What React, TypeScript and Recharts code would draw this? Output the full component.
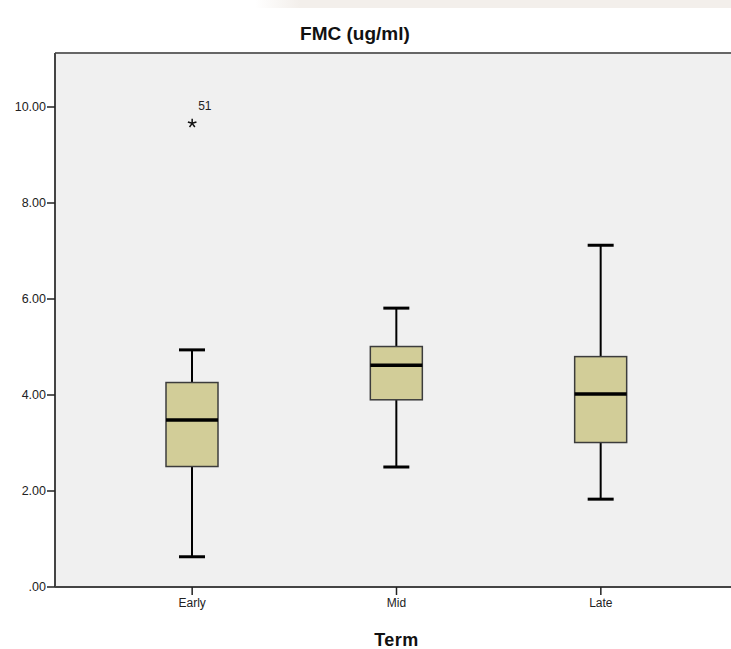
import React from "react";
import {
  ComposedChart,
  Bar,
  Scatter,
  XAxis,
  YAxis,
  CartesianGrid,
  ReferenceLine,
} from "recharts";

// values
const terms = ["Early", "Mid", "Late"];
const whiskerLow = [0.63, 2.5, 1.83];
const q1 = [2.51, 3.9, 3.01];
const median = [3.48, 4.62, 4.02];
const q3 = [4.26, 5.01, 4.8];
const whiskerHigh = [4.94, 5.81, 7.12];
const outliers = [9.66, null, null];
const outlierIds = ["51", "", ""];
const yTicks = [0, 2, 4, 6, 8, 10];
const Y_MAX = 11.125;

const data = terms.map((term, i) => ({
  term,
  box: [q1[i], q3[i]],
  low: whiskerLow[i],
  med: median[i],
  high: whiskerHigh[i],
  q1: q1[i],
  q3: q3[i],
  outlier: outliers[i],
  outlierId: outlierIds[i],
}));

const BoxShape = (props: any) => {
  const { x, y, width, height, payload } = props;
  if (x == null || !payload) return null;
  const pxPer = height / (payload.q3 - payload.q1);
  const yOf = (v: number) => y + (payload.q3 - v) * pxPer;
  const cx = x + width / 2;
  const capHalf = width / 4;
  return (
    <g>
      <line x1={cx} x2={cx} y1={yOf(payload.high)} y2={y} stroke="#000" strokeWidth={2} />
      <line x1={cx} x2={cx} y1={y + height} y2={yOf(payload.low)} stroke="#000" strokeWidth={2} />
      <line x1={cx - capHalf} x2={cx + capHalf} y1={yOf(payload.high)} y2={yOf(payload.high)} stroke="#000" strokeWidth={3} />
      <line x1={cx - capHalf} x2={cx + capHalf} y1={yOf(payload.low)} y2={yOf(payload.low)} stroke="#000" strokeWidth={3} />
      <rect x={x} y={y} width={width} height={height} fill="#d2cd98" stroke="#3c3c3c" strokeWidth={1.5} />
      <line x1={x} x2={x + width} y1={yOf(payload.med)} y2={yOf(payload.med)} stroke="#000" strokeWidth={3.5} />
    </g>
  );
};

const StarShape = (props: any) => {
  const { cx, cy, payload } = props;
  if (!payload || payload.outlier == null || cx == null || cy == null) return null;
  const arms = [0, 1, 2, 3, 4].map((k) => {
    const a = (-90 + k * 72) * (Math.PI / 180);
    return (
      <line key={k} x1={cx} y1={cy} x2={cx + 4.5 * Math.cos(a)} y2={cy + 4.5 * Math.sin(a)} stroke="#111" strokeWidth={1.5} />
    );
  });
  return (
    <g>
      {arms}
      <text x={cx + 6} y={cy - 13} fontSize={12} fontFamily="Liberation Sans, Arial" fill="#222">
        {payload.outlierId}
      </text>
    </g>
  );
};

export default function App() {
  return (
    <div style={{ position: "relative", width: 731, height: 649, overflow: "hidden", background: "#fff" }}>
      <style>{`body{margin:0}`}</style>
      <div
        style={{
          position: "absolute",
          left: 255,
          top: 0,
          width: 476,
          height: 8,
          background: "linear-gradient(to right, #ffffff, #f3efeb 45px)",
        }}
      />
      <ComposedChart
        width={770}
        height={649}
        data={data}
        margin={{ top: 53, right: 0, bottom: 0, left: 0 }}
        style={{ position: "absolute", left: 0, top: 0 }}
      >
        <CartesianGrid horizontal={false} vertical={false} fill="#f0f0f0" />
        <XAxis
          dataKey="term"
          height={62}
          padding={{ left: 35, right: 67 }}
          tickSize={8}
          tickMargin={3}
          axisLine={{ stroke: "#444", strokeWidth: 2 }}
          tickLine={{ stroke: "#222", strokeWidth: 1.5 }}
          tick={{ fontSize: 12, fill: "#222", fontFamily: "Liberation Sans, Arial" }}
        />
        <YAxis
          width={55}
          domain={[0, Y_MAX]}
          ticks={yTicks}
          allowDataOverflow
          tickSize={8}
          tickMargin={1}
          tickFormatter={(v: number) => (v === 0 ? ".00" : v.toFixed(2))}
          axisLine={{ stroke: "#444", strokeWidth: 2 }}
          tickLine={{ stroke: "#222", strokeWidth: 1.5 }}
          tick={{ fontSize: 12.5, fill: "#222", fontFamily: "Liberation Sans, Arial" }}
        />
        <ReferenceLine y={Y_MAX} stroke="#666" strokeWidth={2} ifOverflow="visible" />
        <Bar dataKey="box" barSize={52} shape={BoxShape} isAnimationActive={false} />
        <Scatter dataKey="outlier" shape={StarShape} isAnimationActive={false} />
      </ComposedChart>
      <div
        style={{
          position: "absolute",
          left: 0,
          width: 710,
          top: 23,
          textAlign: "center",
          font: "bold 19px 'Liberation Sans', Arial",
          color: "#111",
        }}
      >
        FMC (ug/ml)
      </div>
      <div
        style={{
          position: "absolute",
          left: 0,
          width: 793,
          top: 630,
          textAlign: "center",
          font: "bold 18px 'Liberation Sans', Arial",
          letterSpacing: 0.5,
          color: "#111",
        }}
      >
        Term
      </div>
    </div>
  );
}
